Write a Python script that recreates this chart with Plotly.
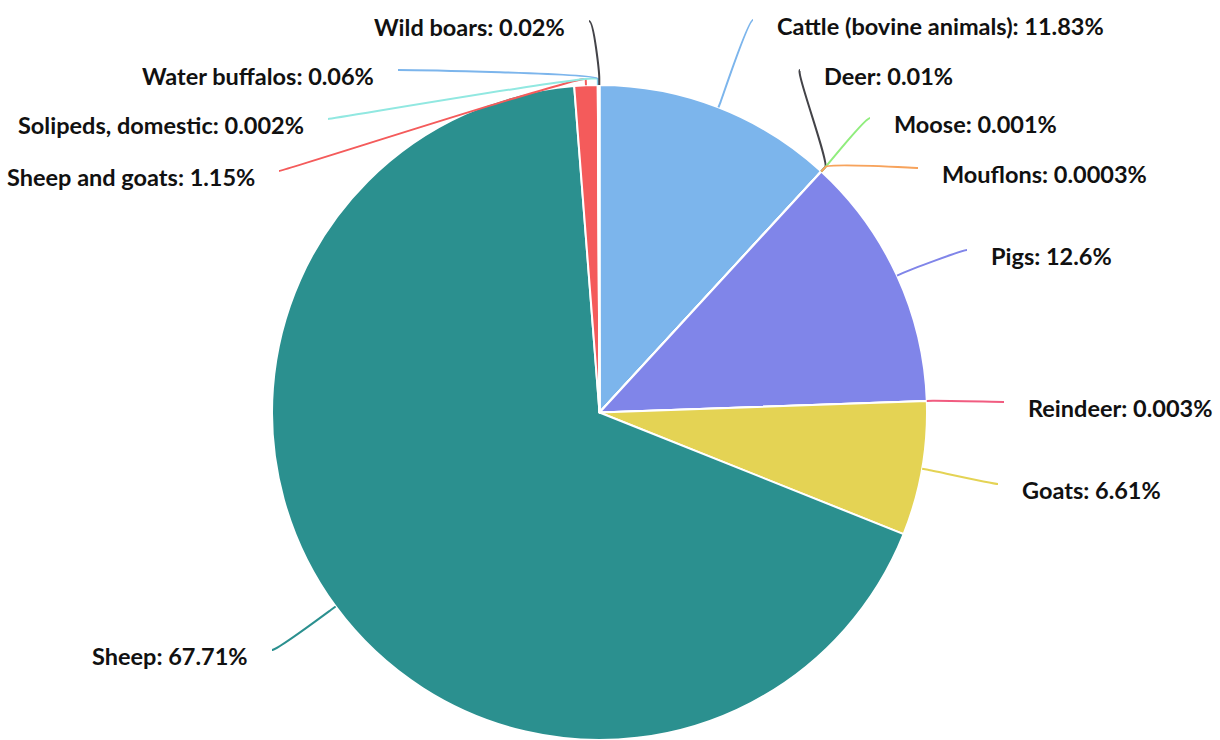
import math
import plotly.graph_objects as go

# ---------------- data ----------------
categories = ["Cattle (bovine animals)", "Deer", "Moose", "Mouflons", "Pigs",
              "Reindeer", "Goats", "Sheep", "Sheep and goats",
              "Solipeds, domestic", "Water buffalos", "Wild boars"]
shares = [11.83, 0.01, 0.001, 0.0003, 12.6, 0.003, 6.61, 67.71, 1.15,
          0.002, 0.06, 0.02]
colors = ["#7cb5ec", "#434348", "#90ed7d", "#f7a35c", "#8085e9", "#f15c80",
          "#e4d354", "#2b908f", "#f45b5b", "#91e8e1", "#7cb5ec", "#434348"]

# ---------------- layout (pixels) ----------------
W, H = 1220, 740
CX, CY, R = 599.5, 412.5, 327.5
BREAK = 6          # soft-connector break distance outside the rim
TEXT_GAP = 22      # gap between connector end and label text
TEXT_DY = 6
# label anchor (outer end of connector) per slice, pixels
label_anchor_x = [753, 800, 870, 918, 967, 1004, 998, 272, 279, 328, 398, 589]
label_anchor_y = [20, 70, 118, 168, 250, 402, 484, 650, 171, 119, 70, 21]

FONT = "Lato, 'Open Sans', sans-serif"


def px(x):
    return x / W


def py(y):
    return 1 - y / H


fig = go.Figure(go.Pie(
    labels=categories,
    values=shares,
    sort=False,
    direction="clockwise",
    rotation=0,
    marker=dict(colors=colors, line=dict(color="white", width=2)),
    textinfo="none",
    hoverinfo="label+percent",
    showlegend=False,
    domain=dict(x=[(CX - R) / W, (CX + R) / W], y=[py(CY + R), py(CY - R)]),
))

total = sum(shares)
cum = 0.0
shapes = []
annotations = []
for i, (name, v) in enumerate(zip(categories, shares)):
    theta = 2 * math.pi * (cum + v / 2) / total
    cum += v
    tx, ty = CX + R * math.sin(theta), CY - R * math.cos(theta)
    bx, by = CX + (R + BREAK) * math.sin(theta), CY - (R + BREAK) * math.cos(theta)
    lx, ly = label_anchor_x[i], label_anchor_y[i]
    right = lx > CX
    c1x = lx + (-5 if right else 5)
    c2x, c2y = 2 * bx - tx, 2 * by - ty
    path = (f"M {px(lx):.5f},{py(ly):.5f} "
            f"C {px(c1x):.5f},{py(ly):.5f} {px(c2x):.5f},{py(c2y):.5f} {px(bx):.5f},{py(by):.5f} "
            f"L {px(tx):.5f},{py(ty):.5f}")
    shapes.append(dict(type="path", xref="paper", yref="paper", path=path,
                       line=dict(color=colors[i], width=2), layer="above"))
    annotations.append(dict(
        xref="paper", yref="paper",
        x=px(lx + (TEXT_GAP if right else -TEXT_GAP)), y=py(ly + TEXT_DY),
        xanchor="left" if right else "right", yanchor="middle",
        text=f"{name}: {v:g}%", showarrow=False,
        font=dict(family=FONT, size=23.5, color="#111111", weight=700),
    ))

fig.update_layout(
    width=W, height=H,
    margin=dict(l=0, r=0, t=0, b=0),
    paper_bgcolor="white", plot_bgcolor="white",
    shapes=shapes, annotations=annotations,
)

fig.write_html("out.html",
               config={"displayModeBar": False},
               post_script="document.body.style.margin='0';"
                           "document.body.style.overflow='hidden';")
